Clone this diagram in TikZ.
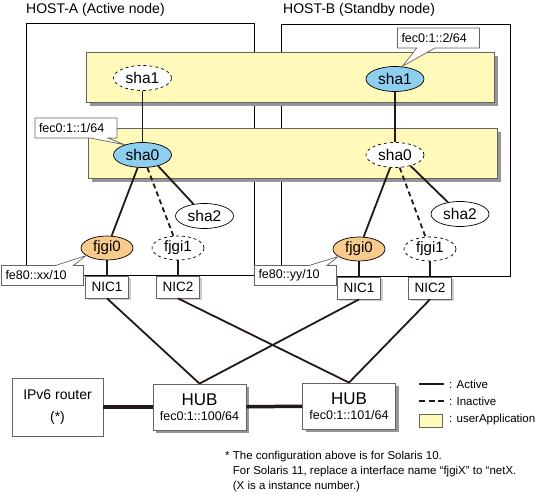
\documentclass[tikz,border=0pt]{standalone}
\usepackage{fontspec}
\setmainfont{Liberation Sans}
\usetikzlibrary{shapes, shapes.callouts, shadows}

\definecolor{appyellow}{RGB}{255,250,185}
\definecolor{activeblue}{RGB}{142,207,240}
\definecolor{nicorange}{RGB}{248,203,140}
\definecolor{shadowgray}{RGB}{150,150,150}
\definecolor{boxline}{RGB}{100,100,100}
\definecolor{linecol}{RGB}{35,24,21}

\begin{document}
\begin{tikzpicture}[x=1pt, y=-1pt,
    host/.style={draw=black, line width=0.8pt},
    title/.style={anchor=west, inner sep=0pt, font=\fontsize{14}{14}\selectfont},
    app/.style={draw=boxline, fill=appyellow, line width=0.8pt, drop shadow={shadow xshift=4pt, shadow yshift=-4pt, fill=shadowgray, opacity=1}},
    iface/.style={ellipse, draw=black, line width=0.7pt, fill=white, inner sep=0pt, minimum width=58pt, minimum height=25pt, font=\fontsize{15.5}{15.5}\selectfont},
    online/.style={iface, fill=activeblue},
    idle/.style={iface, dashed},
    port/.style={iface, minimum width=52pt, minimum height=24pt, font=\fontsize{15}{15}\selectfont},
    nic/.style={draw=boxline, fill=white, line width=0.8pt, minimum width=43pt, minimum height=22pt, inner sep=0pt, font=\fontsize{13.5}{13.5}\selectfont, drop shadow={shadow xshift=2pt, shadow yshift=-2pt, fill=black!20, opacity=1}},
    hub/.style={draw=boxline, fill=white, line width=0.8pt, minimum width=93pt, minimum height=46pt, inner sep=0pt, align=center, font=\fontsize{12.5}{15}\selectfont, drop shadow={shadow xshift=3pt, shadow yshift=-3pt, fill=shadowgray, opacity=1}},
    addr/.style={rectangle callout, draw=boxline, fill=white, line width=0.7pt, callout pointer width=18pt, text width=74pt, align=left, inner xsep=4pt, minimum height=20pt, inner ysep=0pt, font=\fontsize{12.5}{12.5}\selectfont},
    link/.style={draw=linecol, line width=1.8pt},
    standby/.style={link, dash pattern=on 5pt off 3.5pt},
    trunk/.style={draw=linecol, line width=3.5pt},
    legend/.style={anchor=west, inner sep=0pt, font=\fontsize{11.5}{11.5}\selectfont}
]
\useasboundingbox (0,0) rectangle (536,500);

\draw[host] (26,23) rectangle (254,275);
\draw[host] (281,24) rectangle (510,276);
\node[title] (titlea) at (26,10) {HOST-A (Active node)};
\node[title] (titleb) at (283,10) {HOST-B (Standby node)};

\node[app, minimum width=408pt, minimum height=50pt] (appsha1) at (290,77) {};
\node[app, minimum width=409pt, minimum height=50pt] (appsha0) at (292.5,153) {};

\node[idle] (sha1a) at (142.5,78) {sha1};
\node[online] (sha1b) at (395,79) {sha1};
\node[online] (sha0a) at (142.5,155) {sha0};
\node[idle] (sha0b) at (395,155) {sha0};
\node[iface] (sha2a) at (204.5,216) {sha2};
\node[iface] (sha2b) at (460,214) {sha2};
\node[port, fill=nicorange] (fjgi0a) at (107,248) {fjgi0};
\node[port, dashed] (fjgi1a) at (178,248) {fjgi1};
\node[port, fill=nicorange] (fjgi0b) at (359,249) {fjgi0};
\node[port, dashed] (fjgi1b) at (430,249) {fjgi1};

\node[nic] (nic1a) at (107,287) {NIC1};
\node[nic] (nic2a) at (178,287) {NIC2};
\node[nic] (nic1b) at (359,288) {NIC1};
\node[nic] (nic2b) at (430,288) {NIC2};

\node[hub] (huba) at (199.5,407) {{\fontsize{17}{17}\selectfont HUB}\\fec0:1::100/64};
\node[hub] (hubb) at (349,406) {{\fontsize{17}{17}\selectfont HUB}\\fec0:1::101/64};
\node[draw=boxline, line width=0.8pt, minimum width=91pt, minimum height=58pt, align=center, font=\fontsize{14}{22}\selectfont] (router) at (57.5,407) {IPv6 router\\(*)};

\draw[link] (sha1a) -- (sha0a);
\draw[link] (sha1b) -- (sha0b);
\draw[link] (sha0a) -- (fjgi0a);
\draw[standby] (sha0a) -- (fjgi1a);
\draw[link] (sha0a.-35) -- (sha2a);
\draw[link] (sha0b) -- (fjgi0b);
\draw[standby] (sha0b) -- (fjgi1b);
\draw[link] (sha0b.-35) -- (sha2b);
\draw[link] (fjgi0a) -- (nic1a);
\draw[link] (fjgi1a) -- (nic2a);
\draw[link] (fjgi0b) -- (nic1b);
\draw[link] (fjgi1b) -- (nic2b);
\draw[link] (nic1a.south) -- (huba.north);
\draw[link] (nic2a.south) -- (hubb.north);
\draw[link] (nic1b.south) -- (huba.north);
\draw[link] (nic2b.south) -- (hubb.north);
\draw[trunk] (router) -- (huba);
\draw[trunk] (huba) -- (hubb);

\node[addr, callout absolute pointer={(sha0a.150)}] (ipsha0a) at (76,128) {fec0:1::1/64};
\node[addr, callout absolute pointer={(sha1b.60)}] (ipsha1b) at (438.5,38) {fec0:1::2/64};
\node[addr, callout absolute pointer={(fjgi0a.200)}] (ipfjgi0a) at (42.5,275.5) {fe80::xx/10};
\node[addr, callout absolute pointer={(fjgi0b.200)}] (ipfjgi0b) at (295.5,275.5) {fe80::yy/10};

\draw[link] (419,384) -- (444,384);
\node[legend] (keyactive) at (449,384) {: Active};
\draw[link, dash pattern=on 6pt off 3.5pt] (419,401) -- (444,401);
\node[legend] (keyinactive) at (449,401) {: Inactive};
\draw[draw=boxline, fill=appyellow, line width=0.8pt] (419,414) rectangle (442,427);
\node[legend] (keyapp) at (449,420) {: userApplication};

\node[anchor=north west, inner sep=0pt, align=left, font=\fontsize{11.5}{15}\selectfont] (note) at (225,451) {* The configuration above is for Solaris 10.\\\hphantom{*}\ For Solaris 11, replace a interface name “fjgiX” to “netX.\\\hphantom{*}\ (X is a instance number.)};
\end{tikzpicture}
\end{document}
